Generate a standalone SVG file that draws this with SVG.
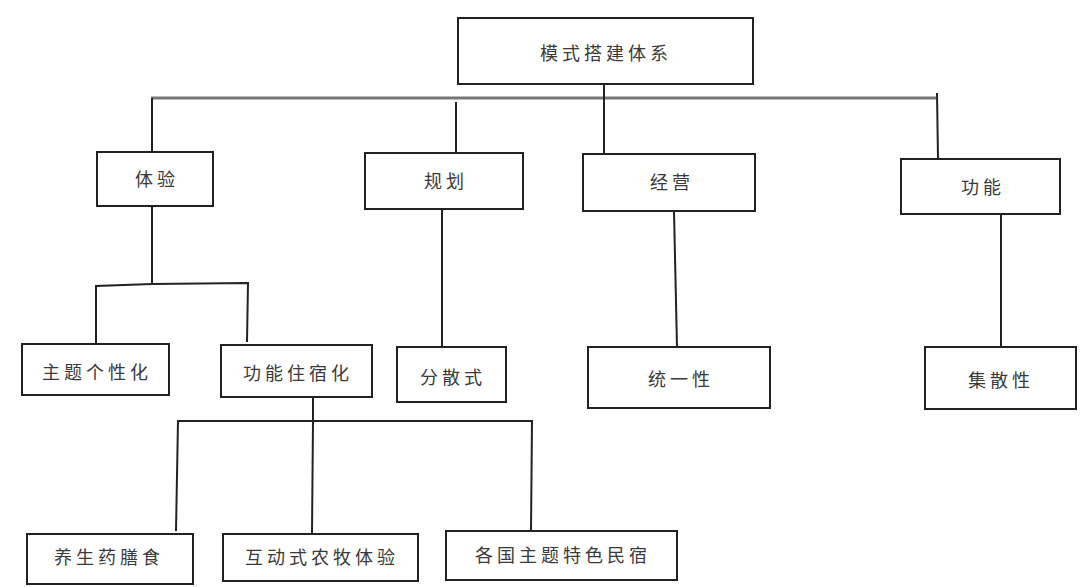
<svg xmlns="http://www.w3.org/2000/svg" width="1080" height="587" viewBox="0 0 1080 587">
<style>
.box{fill:#fff;stroke:#222;stroke-width:2}
.t{font-family:"Noto Sans CJK SC","Liberation Sans",sans-serif;font-size:18px;fill:#3a3a3a;text-anchor:middle;dominant-baseline:central;letter-spacing:4px}
.c{stroke:#222;stroke-width:2;fill:none}
.main{stroke:#777;stroke-width:3;fill:none}
</style>
<rect width="1080" height="587" fill="#fff"/>
<g id="connectors">
<line class="main" x1="151" y1="98" x2="936" y2="98"/>
<polyline class="c" points="604,84 604,153"/>
<polyline class="c" points="152,98 152,152"/>
<polyline class="c" points="456,102 456,153"/>
<polyline class="c" points="937,93 938,159"/>
<polyline class="c" points="152,206 152,283"/>
<polyline class="c" points="96,344 96,286 152,284 248,283 247,342"/>
<polyline class="c" points="442,209 442,347"/>
<polyline class="c" points="674,211 677,347"/>
<polyline class="c" points="1001,214 1001,347"/>
<polyline class="c" points="313,397 313,421"/>
<polyline class="c" points="176,531 178,421 532,421 531,530"/>
<polyline class="c" points="313,421 312,534"/>
</g>
<g id="n-root"><rect class="box" x="458" y="18" width="295" height="66"/><text class="t" x="606" y="52">模式搭建体系</text></g>
<g id="n-tiyan"><rect class="box" x="97" y="152" width="116" height="54"/><text class="t" x="157" y="178">体验</text></g>
<g id="n-guihua"><rect class="box" x="365" y="153" width="158" height="56"/><text class="t" x="446" y="180">规划</text></g>
<g id="n-jingying"><rect class="box" x="583" y="154" width="172" height="57"/><text class="t" x="672" y="181">经营</text></g>
<g id="n-gongneng"><rect class="box" x="901" y="159" width="159" height="55"/><text class="t" x="983" y="186">功能</text></g>
<g id="n-zhuti"><rect class="box" x="22" y="344" width="147" height="51"/><text class="t" x="97" y="371">主题个性化</text></g>
<g id="n-zhusu"><rect class="box" x="221" y="345" width="151" height="52"/><text class="t" x="298" y="372">功能住宿化</text></g>
<g id="n-fensan"><rect class="box" x="397" y="347" width="109" height="55"/><text class="t" x="453" y="376">分散式</text></g>
<g id="n-tongyi"><rect class="box" x="588" y="347" width="182" height="61"/><text class="t" x="681" y="378">统一性</text></g>
<g id="n-jisan"><rect class="box" x="925" y="347" width="151" height="62"/><text class="t" x="1001" y="379">集散性</text></g>
<g id="n-meishi"><rect class="box" x="27" y="534" width="166" height="50"/><text class="t" x="109" y="556">养生药膳食</text></g>
<g id="n-nongmu"><rect class="box" x="223" y="534" width="195" height="47"/><text class="t" x="322" y="556">互动式农牧体验</text></g>
<g id="n-minsu"><rect class="box" x="446" y="531" width="231" height="49"/><text class="t" x="563" y="554">各国主题特色民宿</text></g>
</svg>
